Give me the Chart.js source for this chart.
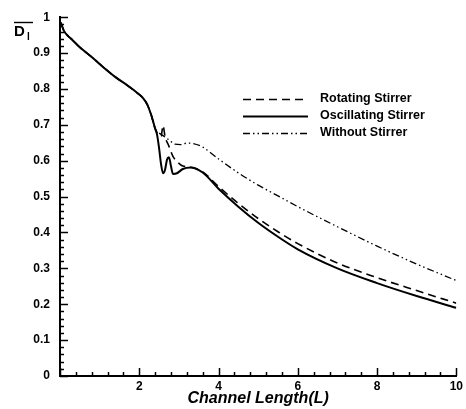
<!DOCTYPE html>
<html>
<head>
<meta charset="utf-8">
<script src="https://cdn.jsdelivr.net/npm/chart.js@4/dist/chart.umd.min.js"></script>
<style>
  html, body { margin: 0; padding: 0; background: #fff; }
  #wrap { width: 466px; height: 409px; }
</style>
</head>
<body>
<div id="wrap"><canvas id="stirChart" width="466" height="409"></canvas></div>
<script>
// common inlet part (all three cases overlap here)
const baseX = [0.02, 0.1, 0.2, 0.3, 0.5, 0.8, 1.1, 1.4, 1.7, 1.95, 2.1, 2.2, 2.3, 2.4];
const baseY = [0.985, 0.962, 0.948, 0.938, 0.916, 0.889, 0.86, 0.833, 0.81, 0.789, 0.774, 0.757, 0.728, 0.69];

const rotX = [2.45, 2.5, 2.55, 2.6, 2.65, 2.75, 2.85, 2.95, 3.1, 3.3, 3.6, 4, 4.5, 5, 5.5, 6, 7, 8, 9, 10];
const rotY = [0.678, 0.672, 0.668, 0.698, 0.668, 0.64, 0.612, 0.598, 0.585, 0.582, 0.569, 0.528, 0.481, 0.439, 0.402, 0.369, 0.315, 0.274, 0.238, 0.203];

const oscX = [2.45, 2.5, 2.55, 2.6, 2.65, 2.7, 2.75, 2.8, 2.85, 2.95, 3.1, 3.3, 3.6, 4, 4.5, 5, 5.5, 6, 7, 8, 9, 10];
const oscY = [0.672, 0.635, 0.59, 0.565, 0.575, 0.603, 0.61, 0.585, 0.563, 0.565, 0.577, 0.581, 0.567, 0.522, 0.472, 0.427, 0.388, 0.353, 0.3, 0.259, 0.223, 0.19];

const noneX = [2.45, 2.6, 2.75, 2.9, 3.05, 3.2, 3.35, 3.6, 4, 4.5, 5, 5.5, 6, 7, 8, 9, 10];
const noneY = [0.682, 0.67, 0.658, 0.646, 0.645, 0.649, 0.648, 0.638, 0.605, 0.566, 0.532, 0.502, 0.472, 0.416, 0.362, 0.312, 0.266];

const seriesNames = ['Rotating Stirrer', 'Oscillating Stirrer', 'Without Stirrer'];
const xTicks = [2, 4, 6, 8, 10];
const yTicks = [0, 0.1, 0.2, 0.3, 0.4, 0.5, 0.6, 0.7, 0.8, 0.9, 1];

function pts(xs, ys) {
  const xa = baseX.concat(xs), ya = baseY.concat(ys);
  return xa.map((x, i) => ({ x: x, y: ya[i] }));
}

const FONT = '"Liberation Sans", Arial, sans-serif';

// ticks pointing into the plot, legend in the middle, D_l label
const decor = {
  id: 'decor',
  afterDraw(chart) {
    const c = chart.ctx, xs = chart.scales.x, ys = chart.scales.y;
    const a = chart.chartArea;
    c.save();
    c.strokeStyle = '#000';
    c.lineWidth = 1.5;
    for (let i = 0; i <= 25; i++) {
      const v = i * 0.4, px = Math.round(xs.getPixelForValue(v)) + 0.5;
      const len = (i % 5 === 0) ? 8 : 4;
      c.beginPath(); c.moveTo(px, a.bottom); c.lineTo(px, a.bottom - len); c.stroke();
    }
    for (let i = 0; i <= 50; i++) {
      const v = i * 0.02, py = Math.round(ys.getPixelForValue(v)) + 0.5;
      const len = (i % 5 === 0) ? 8 : 4;
      c.beginPath(); c.moveTo(a.left, py); c.lineTo(a.left + len, py); c.stroke();
    }

    // legend
    const ds = chart.data.datasets;
    c.font = 'bold 12.5px ' + FONT;
    c.textBaseline = 'middle';
    c.fillStyle = '#000';
    ds.forEach((d, i) => {
      const y = 99 + i * 17;
      c.setLineDash(d.borderDash || []);
      c.lineWidth = d.borderWidth;
      c.beginPath(); c.moveTo(243, y + 0.5); c.lineTo(308, y + 0.5); c.stroke();
      c.setLineDash([]);
      c.fillText(d.label, 320, y);
    });

    // y title: D with overline and subscript l
    c.font = 'bold 15px ' + FONT;
    c.textBaseline = 'alphabetic';
    c.fillText('D', 14, 36);
    c.lineWidth = 1.4;
    c.beginPath(); c.moveTo(14, 22.5); c.lineTo(33, 22.5); c.stroke();
    c.font = 'bold 10px ' + FONT;
    c.fillText('l', 27, 40);
    c.restore();
  }
};

const ctx = document.getElementById('stirChart').getContext('2d');

new Chart(ctx, {
  type: 'scatter',
  data: {
    datasets: [
      {
        label: seriesNames[0],
        data: pts(rotX, rotY),
        borderColor: '#000',
        borderWidth: 1.6,
        borderDash: [8, 5],
        showLine: true,
        pointRadius: 0,
        cubicInterpolationMode: 'monotone'
      },
      {
        label: seriesNames[1],
        data: pts(oscX, oscY),
        borderColor: '#000',
        borderWidth: 2,
        showLine: true,
        pointRadius: 0,
        cubicInterpolationMode: 'monotone'
      },
      {
        label: seriesNames[2],
        data: pts(noneX, noneY),
        borderColor: '#000',
        borderWidth: 1.3,
        borderDash: [7, 3, 1.5, 3, 1.5, 3],
        showLine: true,
        pointRadius: 0,
        cubicInterpolationMode: 'monotone'
      }
    ]
  },
  options: {
    responsive: false,
    animation: false,
    layout: { padding: { left: 0, right: 9, top: 14, bottom: 0 } },
    plugins: {
      legend: { display: false },
      tooltip: { enabled: false }
    },
    scales: {
      x: {
        type: 'linear',
        min: 0,
        max: 10,
        afterFit: s => { s.height = 33; },
        afterBuildTicks: s => { s.ticks = xTicks.map(v => ({ value: v })); },
        grid: { display: false, drawTicks: false },
        border: { display: true, color: '#000', width: 2 },
        ticks: {
          color: '#000',
          padding: 3,
          maxRotation: 0,
          font: { family: FONT, size: 12, weight: 'bold' }
        },
        title: {
          display: true,
          text: 'Channel Length(L)',
          color: '#000',
          padding: { top: 0, bottom: 1 },
          font: { family: FONT, size: 16, weight: 'bold', style: 'italic' }
        }
      },
      y: {
        type: 'linear',
        min: 0,
        max: 1,
        afterFit: s => { s.width = 60; },
        afterBuildTicks: s => { s.ticks = yTicks.map(v => ({ value: v })); },
        grid: { display: false, drawTicks: false },
        border: { display: true, color: '#000', width: 2 },
        ticks: {
          color: '#000',
          padding: 10,
          font: { family: FONT, size: 12, weight: 'bold' },
          callback: v => String(Math.round(v * 10) / 10)
        }
      }
    }
  },
  plugins: [decor]
});
</script>
</body>
</html>
